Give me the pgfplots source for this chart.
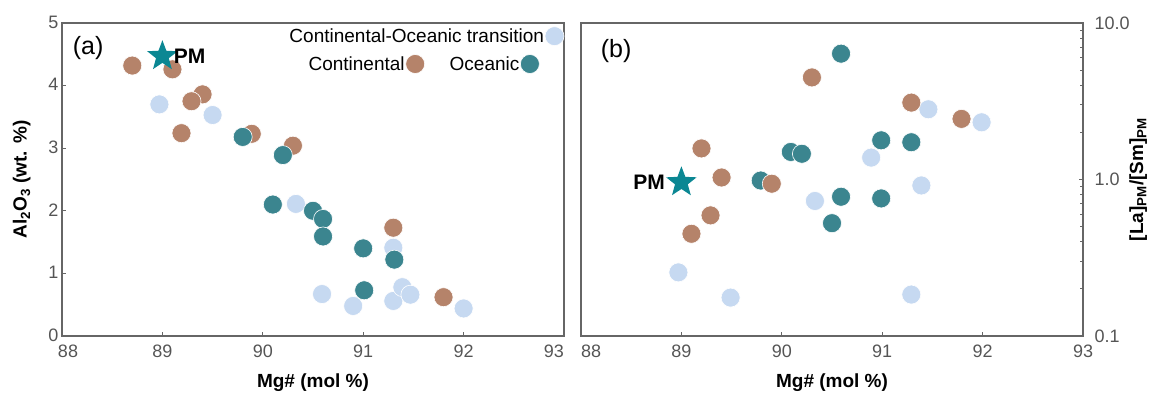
\documentclass[border=0pt]{standalone}
\usepackage{fontspec}
\setmainfont{Liberation Sans}
\usepackage{pgfplots}
\pgfplotsset{compat=1.18}
\definecolor{cot}{HTML}{C6D9F1}
\definecolor{cont}{HTML}{B5836A}
\definecolor{ocean}{HTML}{3B858F}
\definecolor{pmstar}{HTML}{0B8793}
\definecolor{axgray}{HTML}{666666}
\definecolor{tickgray}{HTML}{555555}

\pgfdeclareplotmark{fstar}{%
 \pgfpathmoveto{\pgfpointpolar{90}{\pgfplotmarksize}}%
 \pgfpathlineto{\pgfpointpolar{126}{0.42\pgfplotmarksize}}%
 \pgfpathlineto{\pgfpointpolar{162}{\pgfplotmarksize}}%
 \pgfpathlineto{\pgfpointpolar{198}{0.42\pgfplotmarksize}}%
 \pgfpathlineto{\pgfpointpolar{234}{\pgfplotmarksize}}%
 \pgfpathlineto{\pgfpointpolar{270}{0.42\pgfplotmarksize}}%
 \pgfpathlineto{\pgfpointpolar{306}{\pgfplotmarksize}}%
 \pgfpathlineto{\pgfpointpolar{342}{0.42\pgfplotmarksize}}%
 \pgfpathlineto{\pgfpointpolar{18}{\pgfplotmarksize}}%
 \pgfpathlineto{\pgfpointpolar{54}{0.42\pgfplotmarksize}}%
 \pgfpathclose\pgfusepathqfill}

\pgfplotsset{
 base/.style={scale only axis, width=502pt, height=313pt,
   xmin=88, xmax=93, xtick={88,89,90,91,92,93},
   axis line style={axgray, line width=1.3pt},
   tick style={axgray, line width=0.8pt},
   major tick length=4pt, minor tick length=3pt,
   tick label style={font=\fontsize{18}{20}\selectfont, color=tickgray},
   xticklabel style={yshift=-5pt},
   /pgf/number format/assume math mode=true,
   label style={font=\bfseries\fontsize{19}{22}\selectfont},
   xtick pos=bottom,
   xlabel={Mg\# (mol \%)},
   xlabel style={at={(axis description cs:0.5,-0.15)}, anchor=center},
   clip=false},
 dot/.style={only marks, mark=*, mark size=9.5pt,
   mark options={draw=white, line width=0.6pt, fill=#1}},
 star/.style={only marks, mark=fstar, mark size=16pt, mark options={fill=pmstar, draw=none}},
 leg/.style={legend style={draw=none, fill=none, inner sep=0pt, outer sep=0pt,
   font=\fontsize{19}{22}\selectfont, nodes={inner sep=1pt}}, legend plot pos=right,
   legend image code/.code={\draw[##1] plot coordinates {(10pt,0pt)};}},
}

\pgfplotstableread{
x y
88.97 3.70
89.50 3.53
90.33 2.11
91.30 1.41
90.59 0.67
90.90 0.48
91.30 0.56
91.39 0.78
91.47 0.66
92.00 0.44
}\aCOT
\pgfplotstableread{
x y
88.70 4.32
89.10 4.26
89.40 3.86
89.29 3.75
89.19 3.24
89.89 3.23
90.30 3.04
91.30 1.73
91.80 0.62
}\aCont
\pgfplotstableread{
x y
89.80 3.18
90.20 2.89
90.10 2.10
90.50 2.00
90.60 1.87
90.60 1.59
91.00 1.40
91.31 1.22
91.01 0.73
}\aOce

\pgfplotstableread{
x y
91.46 2.81
91.99 2.32
90.89 1.38
91.39 0.916
90.33 0.729
88.97 0.255
89.49 0.176
91.29 0.184
}\bCOT
\pgfplotstableread{
x y
90.30 4.49
91.29 3.10
91.79 2.44
89.20 1.58
89.40 1.03
89.90 0.94
89.29 0.59
89.10 0.45
}\bCont
\pgfplotstableread{
x y
90.59 6.37
90.99 1.78
91.29 1.73
90.09 1.50
90.20 1.46
89.79 0.985
90.59 0.776
90.99 0.757
90.50 0.526
}\bOce

\begin{document}
\begin{tikzpicture}
\path[use as bounding box] (-62pt,-59pt) rectangle (1089pt,336pt);

% ---------- panel (a) ----------
\begin{axis}[base, at={(0pt,0pt)}, anchor=south west,
  xticklabels={\makebox[0pt][l]{\hspace*{-4pt}88},89,90,91,92,\makebox[0pt][r]{93}},
  ymin=0, ymax=5, ytick={0,1,2,3,4,5}, ytick pos=left,
  yticklabel style={yshift=1pt},
  ylabel={Al\textsubscript{2}O\textsubscript{3} (wt. \%)},
  ylabel style={at={(axis description cs:-0.08,0.5)}, anchor=center},
  leg, legend style={at={(axis description cs:1.0,0.958)}, anchor=east}]
\addlegendimage{dot=cot}
\addlegendentry{Continental-Oceanic transition}
\addplot[dot=cot, forget plot] table {\aCOT};
\addplot[dot=cont, forget plot] table {\aCont};
\addplot[dot=ocean, forget plot] table {\aOce};
\addplot[star, forget plot, nodes near coords={\textbf{PM}},
  every node near coord/.append style={anchor=west, xshift=8pt, yshift=0pt,
  font=\bfseries\fontsize{21}{24}\selectfont, color=black}] coordinates {(89.0,4.47)};
\node[font=\fontsize{25}{28}\selectfont, anchor=center] at (axis description cs:0.052,0.92) {(a)};
\end{axis}

% legend row 2 (hidden overlay axis)
\begin{axis}[scale only axis, width=502pt, height=313pt, at={(0pt,0pt)}, anchor=south west,
  hide axis, xmin=0, xmax=1, ymin=0, ymax=1,
  leg, legend columns=2,
  legend style={at={(axis description cs:0.951,0.869)}, anchor=east,
    /tikz/every even column/.append style={column sep=24pt}}]
\addlegendimage{dot=cont}
\addlegendentry{Continental}
\addlegendimage{dot=ocean}
\addlegendentry{Oceanic}
\end{axis}

% ---------- panel (b) ----------
\begin{axis}[base, at={(519pt,0pt)}, anchor=south west,
  xticklabels={\makebox[0pt][l]{88},89,90,91,92,93},
  ymode=log, ymin=0.1, ymax=10, ytick={0.1,1,10}, yticklabels={0.1,1.0,10.0},
  minor ytick={0.2,0.3,0.4,0.5,0.6,0.7,0.8,0.9,2,3,4,5,6,7,8,9},
  yticklabel pos=right, ytick pos=right,
  yticklabel style={xshift=8pt},
  ylabel={[La]\textsubscript{PM}/[Sm]\textsubscript{PM}},
  ylabel style={at={(axis description cs:1.11,0.5)}, anchor=center, rotate=0}]
\addplot[dot=cot] table {\bCOT};
\addplot[dot=ocean] table {\bOce};
\addplot[dot=cont] table {\bCont};
\addplot[star, nodes near coords={\textbf{PM}},
  every node near coord/.append style={anchor=east, xshift=-13pt,
  font=\bfseries\fontsize{21}{24}\selectfont, color=black}] coordinates {(89.0,0.96)};
\node[font=\fontsize{25}{28}\selectfont, anchor=center] at (axis description cs:0.07,0.91) {(b)};
\end{axis}
\end{tikzpicture}
\end{document}
